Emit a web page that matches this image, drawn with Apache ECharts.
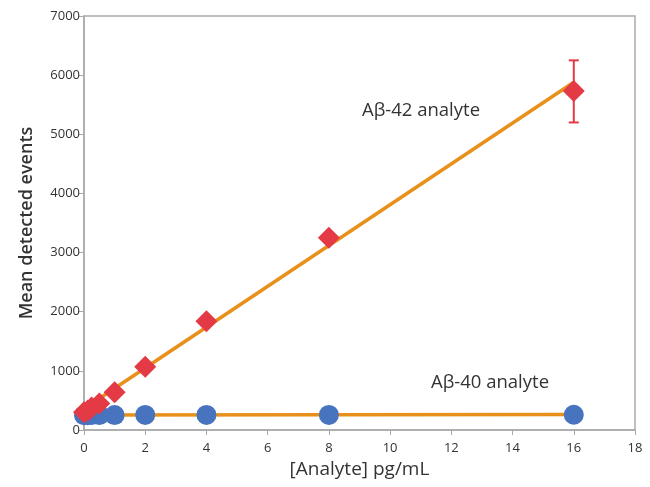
<!DOCTYPE html>
<html><head><meta charset="utf-8">
<script src="https://cdn.jsdelivr.net/npm/echarts@6/dist/echarts.min.js"></script>
<style>html,body{margin:0;padding:0;background:#fff}#c{width:650px;height:487px}</style>
</head><body><div id="c"></div>
<script>
// Data
const conc42 = [0, 0.125, 0.25, 0.5, 1, 2, 4, 8, 16];
const events42 = [300, 330, 380, 450, 640, 1070, 1840, 3250, 5730];
const conc40 = [0, 0.125, 0.25, 0.5, 1, 2, 4, 8, 16];
const events40 = [250, 250, 252, 252, 252, 255, 255, 255, 258];
const fit42 = [[0, 360], [16, 5880]];
const fit40 = [[0, 255], [16, 262]];
const err42 = [[8, 3190, 3320], [16, 5200, 6250]];
const xTicks = [0, 2, 4, 6, 8, 10, 12, 14, 16, 18];
const yTicks = [0, 1000, 2000, 3000, 4000, 5000, 6000, 7000];

const FONT = '"Open Sans", sans-serif';
const chart = echarts.init(document.getElementById('c'));
chart.setOption({
  animation: false,
  grid: {left: 84, right: 15, top: 16, bottom: 57, show: true, borderColor: '#aaa', borderWidth: 1.5},
  xAxis: {
    type: 'value', min: xTicks[0], max: xTicks[xTicks.length-1], interval: 2,
    name: '[Analyte] pg/mL', nameLocation: 'middle', nameGap: 30,
    nameTextStyle: {fontFamily: FONT, fontSize: 19, color: '#333', fontWeight: 500},
    axisLine: {lineStyle: {color: '#aaa', width: 1.5}},
    axisTick: {lineStyle: {color: '#aaa'}, length: 5},
    axisLabel: {fontFamily: FONT, fontSize: 13, color: '#333', margin: 12},
    splitLine: {show: false}
  },
  yAxis: {
    type: 'value', min: yTicks[0], max: yTicks[yTicks.length-1], interval: 1000,
    name: 'Mean detected events', nameLocation: 'middle', nameGap: 48,
    nameTextStyle: {fontFamily: FONT, fontSize: 18, color: '#333', fontWeight: 600},
    axisLine: {show: true, lineStyle: {color: '#aaa', width: 1.5}},
    axisTick: {show: true, lineStyle: {color: '#aaa'}, length: 5},
    axisLabel: {fontFamily: FONT, fontSize: 13, color: '#333', margin: 4, formatter: v => String(v)},
    splitLine: {show: false}
  },
  series: [
    {type: 'line', data: fit40, symbol: 'none', lineStyle: {color: '#e8901a', width: 3.5}, z: 2},
    {type: 'line', data: fit42, symbol: 'none', lineStyle: {color: '#e8901a', width: 3.5}, z: 2},
    {type: 'scatter', data: conc40.map((x, i) => [x, events40[i]]), symbol: 'circle', symbolSize: 20,
     itemStyle: {color: '#4873bf', opacity: 1}, z: 3},
    {type: 'custom', z: 4, data: err42,
     renderItem: function (params, api) {
       const x = api.value(0);
       const lo = api.coord([x, api.value(1)]);
       const hi = api.coord([x, api.value(2)]);
       const w = 5;
       const st = {stroke: '#e33a45', lineWidth: 2};
       return {type: 'group', children: [
         {type: 'line', shape: {x1: lo[0], y1: lo[1], x2: hi[0], y2: hi[1]}, style: st},
         {type: 'line', shape: {x1: lo[0]-w, y1: lo[1], x2: lo[0]+w, y2: lo[1]}, style: st},
         {type: 'line', shape: {x1: hi[0]-w, y1: hi[1], x2: hi[0]+w, y2: hi[1]}, style: st}
       ]};
     }},
    {type: 'scatter', data: conc42.map((x, i) => [x, events42[i]]), symbol: 'diamond', symbolSize: [22, 22],
     itemStyle: {color: '#e33a45', opacity: 1}, z: 5}
  ],
  graphic: [
    {type: 'text', left: 362, top: 101, style: {text: 'Aβ-42 analyte', font: '18.5px "Open Sans", sans-serif', fill: '#333'}},
    {type: 'text', left: 431, top: 373, style: {text: 'Aβ-40 analyte', font: '18.5px "Open Sans", sans-serif', fill: '#333'}}
  ]
});
</script></body></html>
